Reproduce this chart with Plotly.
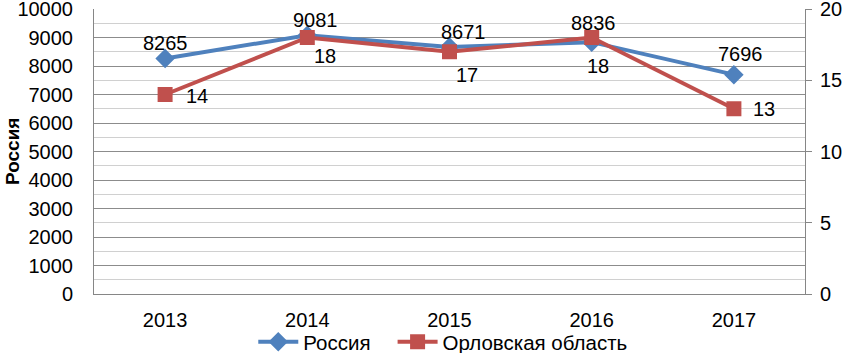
import plotly.graph_objects as go

years = ["2013", "2014", "2015", "2016", "2017"]
russia = [8265, 9081, 8671, 8836, 7696]
orel = [14, 18, 17, 18, 13]

# label offsets in pixels (styling only)
russia_dx = [0, 8, 14, 2, 7]
russia_dy = [15, 15, 15, 19, 21]
orel_dx = [32, 18, 17, 6, 30]
orel_dy = [-1, -18, -23, -28, 0]

W, H = 845, 353
PL, PR, PT, PB = 94, 805, 9, 294  # plot area in pixels

FONT = "Liberation Sans, Arial, sans-serif"
BLUE = "#4F81BD"
RED = "#C0504D"
NB = "\u00a0"

fig = go.Figure()
fig.add_trace(go.Scatter(
    x=years, y=russia, name="Россия" + NB * 3, mode="lines+markers",
    line=dict(color=BLUE, width=4),
    marker=dict(symbol="diamond", size=15, color=BLUE),
    yaxis="y",
))
fig.add_trace(go.Scatter(
    x=years, y=orel, name="Орловская область", mode="lines+markers",
    line=dict(color=RED, width=4),
    marker=dict(symbol="square", size=15, color=RED),
    yaxis="y2",
))

annotations = []
for i, v in enumerate(russia):
    annotations.append(dict(x=i, y=v, xref="x", yref="y", text=str(v), showarrow=False,
                            xshift=russia_dx[i], yshift=russia_dy[i],
                            font=dict(size=20, color="black", family=FONT)))
for i, v in enumerate(orel):
    annotations.append(dict(x=i, y=v, xref="x", yref="y2", text=str(v), showarrow=False,
                            xshift=orel_dx[i], yshift=orel_dy[i],
                            font=dict(size=20, color="black", family=FONT)))
annotations.append(dict(text="<b>Россия</b>", xref="paper", yref="paper",
                        x=0, y=1 - ((PT + PB) / 2) / H, textangle=-90, showarrow=False,
                        xanchor="left", yanchor="middle",
                        font=dict(size=19, color="black", family=FONT)))

fig.update_layout(
    width=W, height=H,
    margin=dict(l=0, r=0, t=0, b=0, autoexpand=False),
    paper_bgcolor="white", plot_bgcolor="white",
    font=dict(family=FONT, size=20, color="black"),
    showlegend=True,
    legend=dict(orientation="h", x=0.524, xanchor="center", y=(H - 342) / H, yanchor="middle",
                font=dict(size=20.5), tracegroupgap=0, itemwidth=40,
                bgcolor="rgba(0,0,0,0)"),
    annotations=annotations,
    xaxis=dict(
        type="category", range=[-0.5, 4.5], domain=[PL / W, PR / W], automargin=False,
        showgrid=False, showline=True, linecolor="#868686", linewidth=1,
        ticks="", tickfont=dict(size=20), ticklabelstandoff=8,
    ),
    yaxis=dict(
        range=[0, 10000], dtick=1000, tick0=0, tickformat="d",
        domain=[1 - PB / H, 1 - PT / H], automargin=False,
        showgrid=True, gridcolor="#8C8C8C", gridwidth=1,
        minor=dict(dtick=500, showgrid=True, gridcolor="#D0D0D0", gridwidth=1),
        showline=True, linecolor="#868686", linewidth=1,
        ticks="", tickfont=dict(size=20), zeroline=False,
        ticklabeloverflow="allow", ticklabelstandoff=16,
    ),
    yaxis2=dict(
        range=[0, 20], dtick=5, overlaying="y", side="right", automargin=False,
        showgrid=False, showline=True, linecolor="#868686", linewidth=1,
        ticks="outside", ticklen=6, tickcolor="#868686",
        tickfont=dict(size=20), zeroline=False,
        ticklabeloverflow="allow", ticklabelstandoff=4,
    ),
)

fig.write_html("out.html", config={"displayModeBar": False},
               post_script="document.body.style.margin='0';")
